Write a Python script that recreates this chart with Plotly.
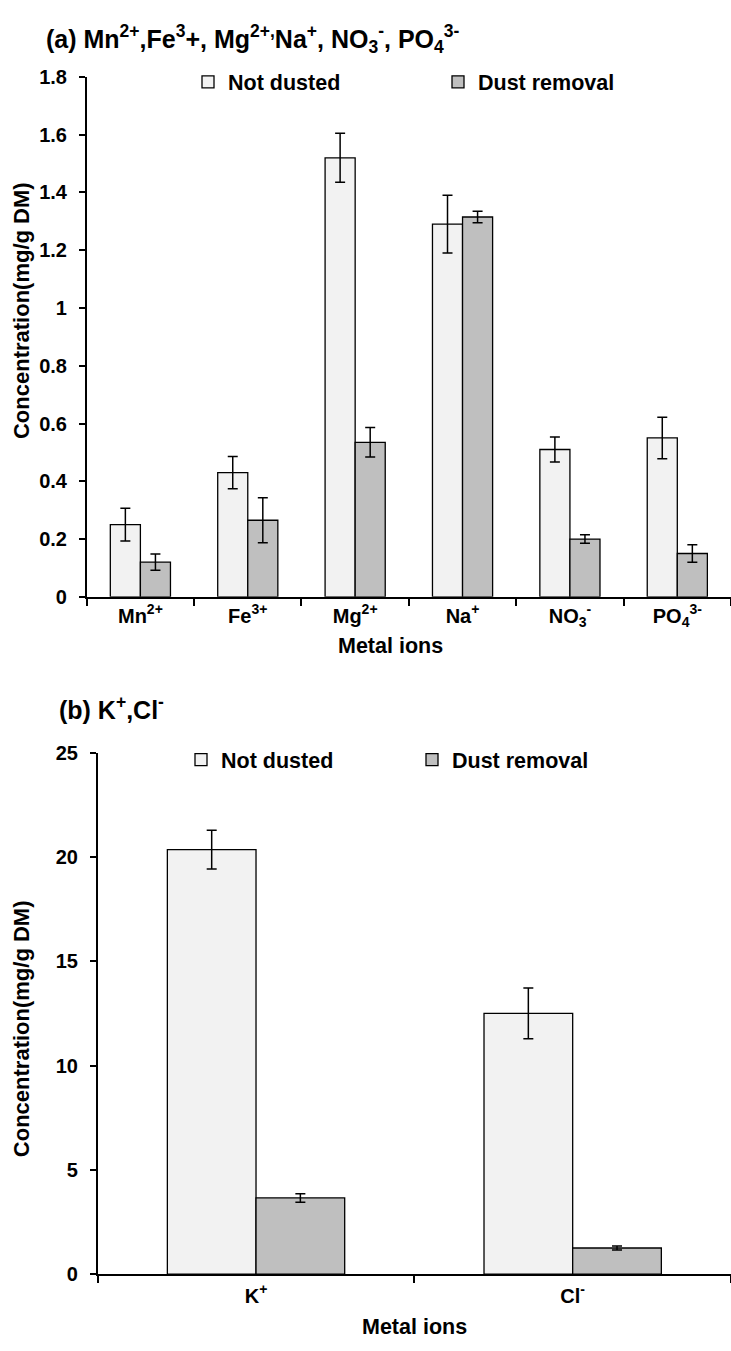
import plotly.graph_objects as go

# ---- data: panel (a) ----
cats_a = ["Mn<sup>2+</sup>", "Fe<sup>3+</sup>", "Mg<sup>2+</sup>", "Na<sup>+</sup>",
          "NO<sub>3</sub><sup>-</sup>", "PO<sub>4</sub><sup>3-</sup>"]
not_dusted_a = [0.25, 0.43, 1.52, 1.29, 0.51, 0.55]
not_dusted_a_err = [0.057, 0.056, 0.085, 0.10, 0.043, 0.072]
dust_removal_a = [0.12, 0.265, 0.535, 1.315, 0.20, 0.15]
dust_removal_a_err = [0.028, 0.078, 0.051, 0.02, 0.015, 0.03]

# ---- data: panel (b) ----
cats_b = ["K<sup>+</sup>", "Cl<sup>-</sup>"]
not_dusted_b = [20.35, 12.5]
not_dusted_b_err = [0.93, 1.22]
dust_removal_b = [3.65, 1.25]
dust_removal_b_err = [0.2, 0.1]

FONT = "Liberation Sans, Arial, sans-serif"
C_ND = "#F2F2F2"
C_DR = "#BFBFBF"
W, H = 731, 1351

def err(arr):
    return dict(type="data", array=arr, visible=True, color="black", thickness=1.5, width=5)

def bar(x, y, e, name, color, xa, ya, leg):
    return go.Bar(x=x, y=y, name=name, marker=dict(color=color, line=dict(color="black", width=1.3)),
                  error_y=err(e), xaxis=xa, yaxis=ya, legend=leg)

fig = go.Figure()
fig.add_trace(bar(cats_a, not_dusted_a, not_dusted_a_err, "Not dusted", C_ND, "x", "y", "legend"))
fig.add_trace(bar(cats_a, dust_removal_a, dust_removal_a_err, "Dust removal", C_DR, "x", "y", "legend"))
fig.add_trace(bar(cats_b, not_dusted_b, not_dusted_b_err, "Not dusted", C_ND, "x2", "y2", "legend2"))
fig.add_trace(bar(cats_b, dust_removal_b, dust_removal_b_err, "Dust removal", C_DR, "x2", "y2", "legend2"))

tickfont = dict(family=FONT, size=20, color="black", weight="bold")
titlefont = dict(family=FONT, size=21.5, color="black", weight="bold")

xcommon = dict(type="category", showline=True, linecolor="black", linewidth=1.5, ticks="outside",
               tickson="boundaries", ticklen=7, tickcolor="black", tickwidth=1.5, tickfont=tickfont,
               showgrid=False, zeroline=False)
ycommon = dict(showline=True, linecolor="black", linewidth=1.5, ticks="outside", ticklen=6,
               tickcolor="black", tickwidth=1.5, tickfont=tickfont, showgrid=False, zeroline=False,
               ticklabelstandoff=8)

legfont = dict(family=FONT, size=21.5, color="black", weight="bold")

def txt(text, x, y, size=21.5, angle=0, xanchor="center"):
    return dict(text=text, x=x / W, y=1 - y / H, xref="paper", yref="paper", xanchor=xanchor,
                yanchor="middle", textangle=angle, showarrow=False,
                font=dict(family=FONT, size=size, color="black", weight="bold"))

fig.update_layout(
    width=W, height=H,
    margin=dict(l=0, r=0, t=0, b=0),
    paper_bgcolor="white", plot_bgcolor="white",
    barmode="group", bargap=0.44, bargroupgap=0,
    font=dict(family=FONT, color="black"),
    xaxis=dict(xcommon, domain=[86.7 / W, 1.0], anchor="y"),
    yaxis=dict(ycommon, domain=[1 - 595.5 / H, 1 - 67 / H], anchor="x", range=[0, 1.8], dtick=0.2),
    xaxis2=dict(xcommon, domain=[97.7 / W, 1.0], anchor="y2", ticklabelstandoff=3),
    yaxis2=dict(ycommon, domain=[1 - 1284 / H, 1 - 754 / H], anchor="x2", range=[0, 25], dtick=5),
    legend=dict(orientation="h", x=188 / W, y=1 - 72 / H, xanchor="left", yanchor="middle",
                font=legfont, entrywidth=205, entrywidthmode="pixels", bgcolor="rgba(0,0,0,0)",
                itemclick=False, itemdoubleclick=False),
    legend2=dict(orientation="h", x=181 / W, y=1 - 761 / H, xanchor="left", yanchor="middle",
                 font=legfont, entrywidth=186, entrywidthmode="pixels", bgcolor="rgba(0,0,0,0)",
                 itemclick=False, itemdoubleclick=False),
    annotations=[
        txt("(a) Mn<sup>2+</sup>,Fe<sup>3</sup>+, Mg<sup>2+,</sup>Na<sup>+</sup>, NO<sub>3</sub><sup>-</sup>, PO<sub>4</sub><sup>3-</sup>",
            44, 28, size=25, xanchor="left"),
        txt("(b) K<sup>+</sup>,Cl<sup>-</sup>", 57, 709, size=25, xanchor="left"),
        txt("Concentration(mg/g DM)", 21, 305, size=22, angle=-90),
        txt("Concentration(mg/g DM)", 21, 1035, size=22, angle=-90),
        txt("Metal ions", 390, 646),
        txt("Metal ions", 414, 1338),
    ],
)

fig.write_html("out.html")
